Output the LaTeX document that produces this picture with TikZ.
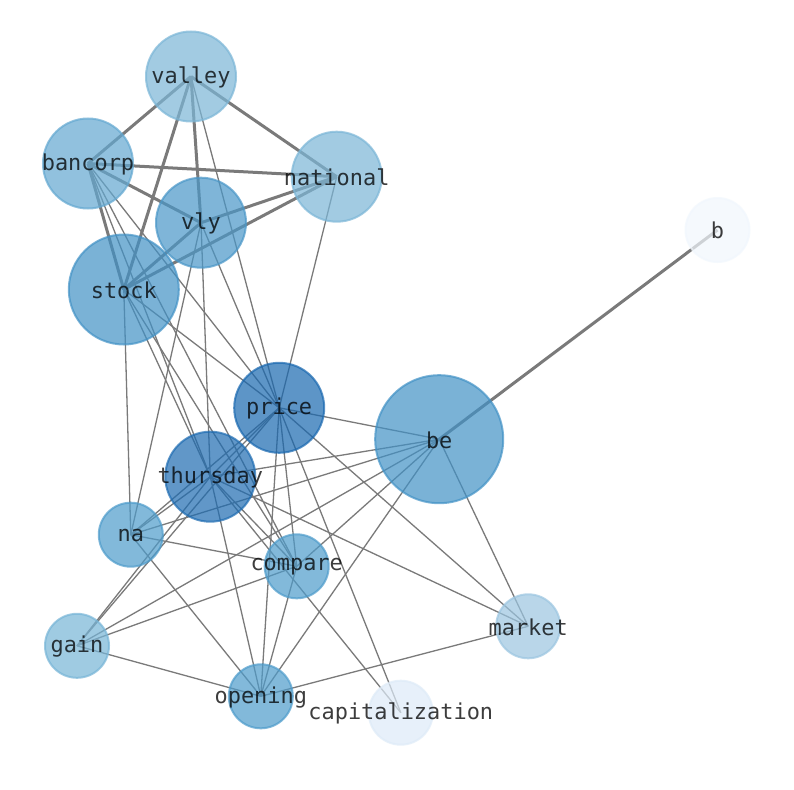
\documentclass[tikz,border=0pt]{standalone}
\usepackage{fontspec}
\setmonofont{DejaVu Sans Mono}
\usetikzlibrary{backgrounds}
\definecolor{cPrice}{RGB}{25,104,176}
\definecolor{cThu}{RGB}{30,108,178}
\definecolor{cBe}{RGB}{66,146,198}
\definecolor{cStock}{RGB}{66,146,198}
\definecolor{cVly}{RGB}{74,151,200}
\definecolor{cMid}{RGB}{78,156,203}
\definecolor{cBanc}{RGB}{99,168,209}
\definecolor{cVal}{RGB}{123,182,215}
\definecolor{cGain}{RGB}{119,181,215}
\definecolor{cMkt}{RGB}{156,198,225}
\definecolor{cCap}{RGB}{222,235,248}
\definecolor{cB}{RGB}{241,247,253}
\definecolor{edgegray}{RGB}{122,122,122}
\begin{document}
\begin{tikzpicture}[x=1bp,y=-1bp,
  nd/.style 2 args={circle, inner sep=0pt, minimum size=#1, fill=#2, draw=#2,
    line width=2bp, fill opacity=0.7, draw opacity=0.7},
  lbl/.style={font=\ttfamily\fontsize{22}{24}\selectfont, text=black,
    text opacity=0.76, inner sep=0pt},
  edgeThin/.style={draw=edgegray, line width=1.3bp},
  edgeThick/.style={draw=edgegray, line width=3bp}]
\useasboundingbox (0,0) rectangle (794,790);
% circles
\node[nd={90bp}{cVal}]   (valley)   at (191,76.5) {};
\node[nd={90bp}{cBanc}]  (bancorp)  at (88,163.5) {};
\node[nd={90bp}{cVal}]   (national) at (336.7,176.7) {};
\node[nd={110bp}{cStock}] (stock)   at (123.8,289.5) {};
\node[nd={90bp}{cVly}]   (vly)      at (201,222.7) {};
\node[nd={64bp}{cB}]     (b)        at (717.5,230) {};
\node[nd={90bp}{cPrice}] (price)    at (279.2,407.8) {};
\node[nd={128bp}{cBe}]   (be)       at (439.2,439.2) {};
\node[nd={90bp}{cThu}]   (thursday) at (210.3,476.7) {};
\node[nd={64bp}{cMid}]   (na)       at (130.8,534.7) {};
\node[nd={64bp}{cMid}]   (compare)  at (296.7,566.3) {};
\node[nd={64bp}{cMkt}]   (market)   at (528.2,626.3) {};
\node[nd={64bp}{cGain}]  (gain)     at (77,645.8) {};
\node[nd={64bp}{cMid}]   (opening)  at (260.8,696.3) {};
\node[nd={64bp}{cCap}]   (capitalization) at (400.8,712.7) {};
% labels
\foreach \nm in {valley,bancorp,national,stock,vly,b,price,be,thursday,na,compare,market,gain,opening,capitalization}
  \node[lbl] (\nm-l) at ([yshift=-0.8bp]\nm.center) {\nm};
% edges
\begin{pgfonlayer}{background}
\fill[white] (0,0) rectangle (794,790);
\foreach \ea/\eb in {valley/bancorp,valley/national,valley/vly,valley/stock,
  bancorp/national,bancorp/vly,bancorp/stock,national/vly,national/stock,vly/stock,be/b}
  \draw[edgeThick] (\ea.center) -- (\eb.center);
\foreach \ea/\eb in {valley/price,
  bancorp/thursday,bancorp/compare,bancorp/price,
  national/price,
  vly/na,vly/thursday,vly/price,
  stock/na,stock/thursday,stock/compare,stock/price,
  price/thursday,price/na,price/gain,price/compare,price/opening,price/capitalization,price/market,price/be,
  thursday/na,thursday/gain,thursday/be,thursday/compare,thursday/opening,thursday/capitalization,thursday/market,
  na/be,na/compare,na/opening,
  gain/be,gain/compare,gain/opening,
  compare/be,compare/opening,
  be/opening,be/market,
  opening/market}
  \draw[edgeThin] (\ea.center) -- (\eb.center);
\end{pgfonlayer}
\end{tikzpicture}
\end{document}
